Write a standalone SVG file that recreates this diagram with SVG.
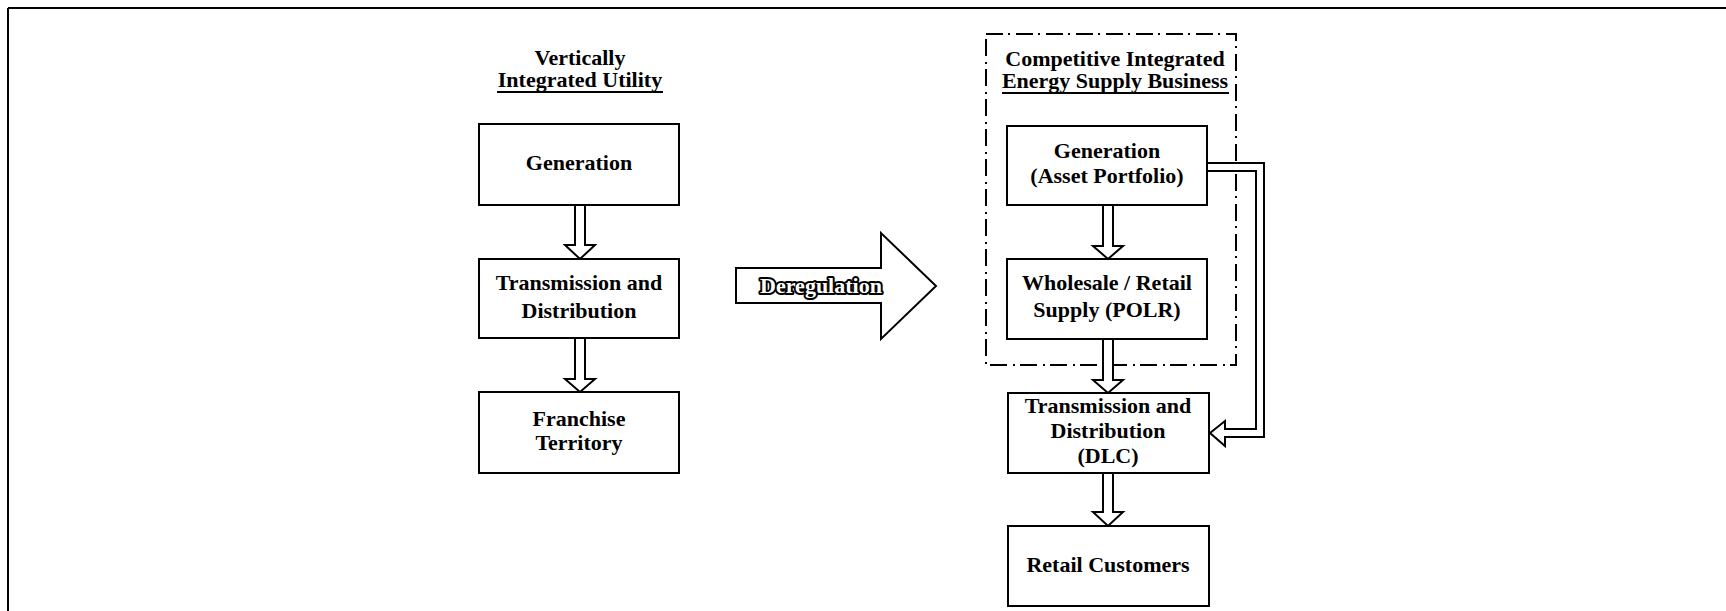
<svg xmlns="http://www.w3.org/2000/svg" width="1726" height="611" viewBox="0 0 1726 611">
<style>
.box{fill:#fff;stroke:#000;stroke-width:2}
.t{font-family:"Liberation Serif","Times New Roman",serif;font-weight:bold;font-size:22px;fill:#000;text-anchor:middle}
.arr{fill:#fff;stroke:#000;stroke-width:2;stroke-linejoin:miter}
.ul{stroke:#000;stroke-width:1.8}
</style>
<rect width="1726" height="611" fill="#fff"/>
<g id="frame">
<line x1="8" y1="8" x2="1726" y2="8" stroke="#000" stroke-width="2"/>
<line x1="8" y1="8" x2="8" y2="611" stroke="#000" stroke-width="2"/>
</g>
<g id="title-left">
<text class="t" x="580" y="65">Vertically</text>
<text class="t" x="580" y="87">Integrated Utility</text>
<line class="ul" x1="497" y1="92" x2="663" y2="92"/>
</g>
<g id="competitive-group">
<rect x="986" y="34" width="250" height="331" fill="none" stroke="#000" stroke-width="2" stroke-dasharray="17 5 2 6"/>
<text class="t" x="1115" y="66">Competitive Integrated</text>
<text class="t" x="1115" y="88">Energy Supply Business</text>
<line class="ul" x1="1002" y1="93" x2="1229" y2="93"/>
</g>
<g id="gen-left">
<rect class="box" x="479" y="124" width="200" height="81"/>
<text class="t" x="579" y="170">Generation</text>
</g>
<g id="td-left">
<rect class="box" x="479" y="259" width="200" height="79"/>
<text class="t" x="579" y="290">Transmission and</text>
<text class="t" x="579" y="318">Distribution</text>
</g>
<g id="franchise">
<rect class="box" x="479" y="392" width="200" height="81"/>
<text class="t" x="579" y="426">Franchise</text>
<text class="t" x="579" y="450">Territory</text>
</g>
<g id="gen-right">
<rect class="box" x="1007" y="126" width="200" height="79"/>
<text class="t" x="1107" y="158">Generation</text>
<text class="t" x="1107" y="183">(Asset Portfolio)</text>
</g>
<g id="wholesale">
<rect class="box" x="1007" y="259" width="200" height="80"/>
<text class="t" x="1107" y="290">Wholesale / Retail</text>
<text class="t" x="1107" y="317">Supply (POLR)</text>
</g>
<g id="td-right">
<rect class="box" x="1008" y="393" width="201" height="80"/>
<text class="t" x="1108" y="413">Transmission and</text>
<text class="t" x="1108" y="438">Distribution</text>
<text class="t" x="1108" y="463">(DLC)</text>
</g>
<g id="retail">
<rect class="box" x="1008" y="526" width="201" height="80"/>
<text class="t" x="1108" y="572">Retail Customers</text>
</g>
<g id="connectors">
<path class="arr" d="M575,206 V245 H565 L580,259 L595,245 H585 V206"/>
<path class="arr" d="M575,339 V379 H565 L580,392 L595,379 H585 V339"/>
<path class="arr" d="M1103,206 V246 H1093 L1108,259 L1123,246 H1113 V206"/>
<path class="arr" d="M1103,340 V380 H1093 L1108,393 L1123,380 H1113 V340"/>
<path class="arr" d="M1103,474 V512 H1093 L1108,526 L1123,512 H1113 V474"/>
<path class="arr" d="M1208,163 H1264 V437 H1225 V446 L1210,433 L1225,421 V429 H1256 V171 H1208"/>
</g>
<g id="deregulation">
<polygon class="arr" points="736,268 881,268 881,233 936,286 881,339 881,303 736,303"/>
<text class="t" x="821" y="293" style="font-size:22px;fill:#fff;stroke:#000;stroke-width:4;paint-order:stroke;stroke-linejoin:round">Deregulation</text>
</g>
</svg>
